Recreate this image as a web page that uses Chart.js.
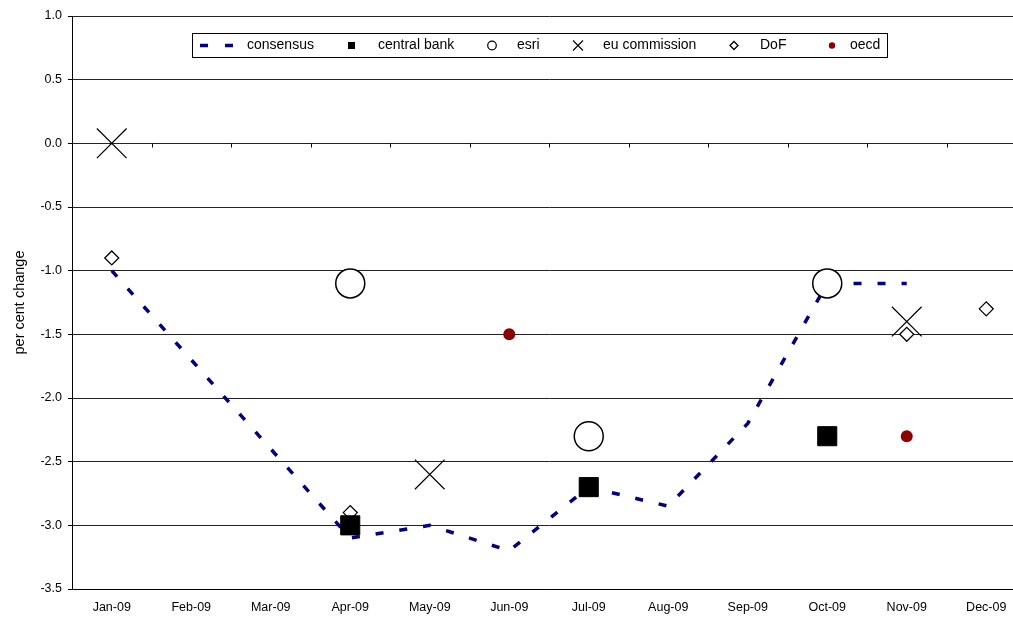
<!DOCTYPE html>
<html><head><meta charset="utf-8">
<script src="https://cdn.jsdelivr.net/npm/chart.js@4/dist/chart.umd.min.js"></script>
<style>
html,body{margin:0;padding:0;background:#fff;overflow:hidden;width:1013px;height:619px}
#c{position:absolute;left:0;top:0}
</style></head><body><canvas id="c" width="1026" height="619"></canvas>
<script>
const categories = ['Jan-09','Feb-09','Mar-09','Apr-09','May-09','Jun-09','Jul-09','Aug-09','Sep-09','Oct-09','Nov-09','Dec-09'];
const consensus    = [-1.0, null, null, -3.1, -3.0, -3.2, -2.7, -2.85, -2.2, -1.1, -1.1, null];
const centralBank  = [null, null, null, -3.0, null, null, -2.7, null, null, -2.3, null, null];
const esri         = [null, null, null, -1.1, null, null, -2.3, null, null, -1.1, null, null];
const euCommission = [0.0, null, null, null, -2.6, null, null, null, null, null, -1.4, null];
const dof          = [-0.9, null, null, -2.9, null, null, null, null, null, null, -1.5, -1.3];
const oecd         = [null, null, null, null, null, -1.5, null, null, null, null, -2.3, null];
const yTickValues  = [1.0, 0.5, 0.0, -0.5, -1.0, -1.5, -2.0, -2.5, -3.0, -3.5];
const legendLabels = ['consensus', 'central bank', 'esri', 'eu commission', 'DoF', 'oecd'];

const FONT = "'Liberation Sans', Arial, sans-serif";
const NAVY = '#000080';
const DARKRED = '#8B0000';

const legendItems = [
  {sym: 'line', cx: 216, tx: 247},
  {sym: 'rect', cx: 351.5, tx: 378},
  {sym: 'circle', cx: 492, tx: 517},
  {sym: 'crossRot', cx: 578, tx: 603},
  {sym: 'rectRot', cx: 734, tx: 760},
  {sym: 'dot', cx: 832, tx: 850}
];

const boxLegend = {
  id: 'boxLegend',
  afterDatasetsDraw(chart) {
    const ctx = chart.ctx;
    ctx.save();
    ctx.fillStyle = '#fff';
    ctx.strokeStyle = '#000';
    ctx.lineWidth = 1;
    ctx.fillRect(192.5, 33.5, 695, 24);
    ctx.strokeRect(192.5, 33.5, 695, 24);
    const cy = 45.5;
    legendItems.forEach((it, i) => {
      ctx.save();
      if (it.sym === 'line') {
        ctx.strokeStyle = NAVY; ctx.lineWidth = 3.5; ctx.setLineDash([8, 17]);
        ctx.beginPath(); ctx.moveTo(200, cy); ctx.lineTo(234, cy); ctx.stroke();
      } else if (it.sym === 'rect') {
        ctx.fillStyle = '#000'; ctx.fillRect(it.cx - 3.5, cy - 3.5, 7, 7);
      } else if (it.sym === 'circle') {
        ctx.strokeStyle = '#000'; ctx.lineWidth = 1.2; ctx.fillStyle = '#fff';
        ctx.beginPath(); ctx.arc(it.cx, cy, 4.3, 0, Math.PI * 2); ctx.fill(); ctx.stroke();
      } else if (it.sym === 'crossRot') {
        ctx.strokeStyle = '#000'; ctx.lineWidth = 1.1;
        ctx.beginPath(); ctx.moveTo(it.cx - 5, cy - 5); ctx.lineTo(it.cx + 5, cy + 5);
        ctx.moveTo(it.cx + 5, cy - 5); ctx.lineTo(it.cx - 5, cy + 5); ctx.stroke();
      } else if (it.sym === 'rectRot') {
        ctx.strokeStyle = '#000'; ctx.lineWidth = 1.3; ctx.fillStyle = '#fff';
        ctx.beginPath(); ctx.moveTo(it.cx - 4, cy); ctx.lineTo(it.cx, cy - 4);
        ctx.lineTo(it.cx + 4, cy); ctx.lineTo(it.cx, cy + 4); ctx.closePath(); ctx.fill(); ctx.stroke();
      } else if (it.sym === 'dot') {
        ctx.fillStyle = DARKRED;
        ctx.beginPath(); ctx.arc(it.cx, cy, 3.2, 0, Math.PI * 2); ctx.fill();
      }
      ctx.restore();
      ctx.fillStyle = '#000';
      ctx.font = '14px ' + FONT;
      ctx.textBaseline = 'middle';
      ctx.textAlign = 'left';
      ctx.fillText(legendLabels[i], it.tx, cy);
    });
    ctx.restore();
  }
};

const zeroTicks = {
  id: 'zeroTicks',
  beforeDatasetsDraw(chart) {
    const xs = chart.scales.x, ys = chart.scales.y, ctx = chart.ctx;
    const y0 = Math.round(ys.getPixelForValue(0)) + 0.5;
    ctx.save();
    ctx.strokeStyle = '#000'; ctx.lineWidth = 1;
    ctx.beginPath();
    for (let i = 1; i < categories.length; i++) {
      const x = Math.round((xs.getPixelForValue(i - 1) + xs.getPixelForValue(i)) / 2) + 0.5;
      ctx.moveTo(x, y0); ctx.lineTo(x, y0 + 4);
    }
    ctx.stroke();
    ctx.restore();
  }
};

new Chart(document.getElementById('c'), {
  type: 'line',
  data: {
    labels: categories,
    datasets: [
      {label: legendLabels[0], data: consensus, borderColor: NAVY, borderWidth: 3.5, borderDash: [8, 16],
       pointRadius: 0, spanGaps: true, tension: 0, order: 10, fill: false},
      {label: legendLabels[1], data: centralBank, showLine: false, pointStyle: 'rect', pointRadius: 13.5,
       pointBackgroundColor: '#000', pointBorderColor: '#000', pointBorderWidth: 1, order: 1},
      {label: legendLabels[2], data: esri, showLine: false, pointStyle: 'circle', pointRadius: 14.5,
       pointBackgroundColor: '#fff', pointBorderColor: '#000', pointBorderWidth: 1.5, order: 2},
      {label: legendLabels[3], data: euCommission, showLine: false, pointStyle: 'crossRot', pointRadius: 21,
       pointBorderColor: '#000', pointBorderWidth: 1.2, order: 4},
      {label: legendLabels[4], data: dof, showLine: false, pointStyle: 'rectRot', pointRadius: 7,
       pointBackgroundColor: '#fff', pointBorderColor: '#000', pointBorderWidth: 1.3, order: 3},
      {label: legendLabels[5], data: oecd, showLine: false, pointStyle: 'circle', pointRadius: 6,
       pointBackgroundColor: DARKRED, pointBorderColor: DARKRED, pointBorderWidth: 0, order: 5}
    ]
  },
  options: {
    responsive: false,
    animation: false,
    events: [],
    layout: {autoPadding: false, padding: {top: 16, left: 0, right: 0, bottom: 0}},
    plugins: {legend: {display: false}, tooltip: {enabled: false}, title: {display: false}},
    scales: {
      x: {
        type: 'category', offset: true,
        grid: {display: false, drawTicks: false},
        border: {display: true, color: '#000', width: 1},
        ticks: {color: '#000', font: {family: FONT, size: 12.5}, padding: 11, maxRotation: 0, autoSkip: false},
        afterFit: s => { s.height = 30; }
      },
      y: {
        min: -3.5, max: 1.0,
        afterBuildTicks: s => { s.ticks = yTickValues.map(v => ({value: v})); },
        grid: {color: '#222', lineWidth: 1, tickLength: 4, tickColor: '#000'},
        border: {display: true, color: '#000', width: 1},
        ticks: {color: '#000', font: {family: FONT, size: 12.5}, padding: 6, callback: v => Number(v).toFixed(1)},
        title: {display: true, text: 'per cent change', color: '#000', font: {family: FONT, size: 14.5}, padding: {top: 11, bottom: 0}},
        afterFit: s => { s.width = 72; }
      }
    }
  },
  plugins: [zeroTicks, boxLegend]
});
</script></body></html>
